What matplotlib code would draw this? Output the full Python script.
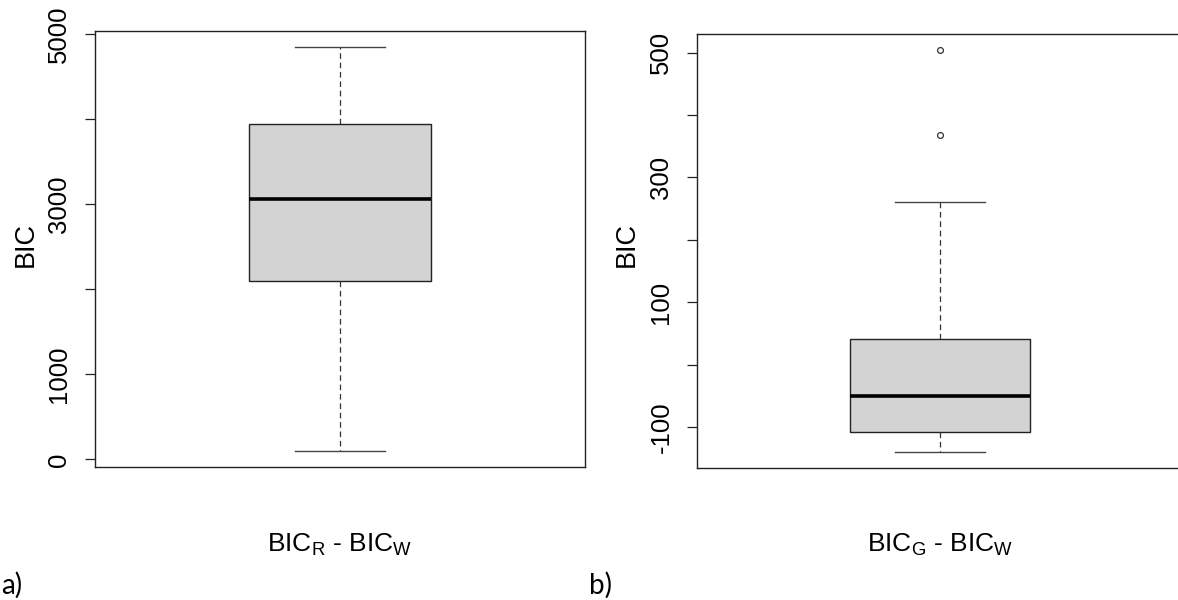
import matplotlib
matplotlib.use("Agg")
import matplotlib.pyplot as plt

# ---- data ----
panel_labels = ["a)", "b)"]
xlabels = [r"BIC$_\mathrm{R}$ - BIC$_\mathrm{W}$", r"BIC$_\mathrm{G}$ - BIC$_\mathrm{W}$"]
ylabel = "BIC"

# left panel: BIC_R - BIC_W
a_whislo, a_q1, a_med, a_q3, a_whishi = 101, 2102, 3060, 3946, 4849
a_fliers = []
a_ticks = [0, 1000, 2000, 3000, 4000, 5000]
a_ticklabels = ["0", "1000", "", "3000", "", "5000"]

# right panel: BIC_G - BIC_W
b_whislo, b_q1, b_med, b_q3, b_whishi = -139, -107, -50, 41, 260
b_fliers = [368, 504]
b_ticks = [-100, 0, 100, 200, 300, 400, 500]
b_ticklabels = ["-100", "", "100", "", "300", "", "500"]

# ---- style ----
W, H = 1178, 600
plt.rcParams["font.family"] = ["Liberation Sans", "DejaVu Sans"]
plt.rcParams["mathtext.fontset"] = "custom"
plt.rcParams["mathtext.rm"] = "Liberation Sans"
plt.rcParams["mathtext.it"] = "Liberation Sans:italic"
plt.rcParams["axes.unicode_minus"] = False

fig = plt.figure(figsize=(W / 100, H / 100), dpi=100)


def px_axes(x0, x1, ytop, ybot):
    return fig.add_axes([x0 / W, 1 - ybot / H, (x1 - x0) / W, (ybot - ytop) / H])


def draw(ax, stats_vals, fliers, ticks, ticklabels):
    lo, q1, med, q3, hi = stats_vals
    st = [dict(whislo=lo, q1=q1, med=med, q3=q3, whishi=hi, fliers=fliers)]
    ax.bxp(st, positions=[1], widths=0.4, patch_artist=True, showcaps=True,
           capwidths=0.2,
           boxprops=dict(facecolor="#d3d3d3", edgecolor="#222222", linewidth=1.0),
           medianprops=dict(color="black", linewidth=2.6, solid_capstyle="butt"),
           whiskerprops=dict(color="#333333", linewidth=0.9, linestyle=(0, (4.5, 3))),
           capprops=dict(color="#444444", linewidth=1.0),
           flierprops=dict(marker="o", markersize=4.2, markerfacecolor="white",
                           markeredgecolor="#333333", markeredgewidth=0.9))
    allv = [lo, hi] + list(fliers)
    mn, mx = min(allv), max(allv)
    r = mx - mn
    ax.set_ylim(mn - 0.04 * r, mx + 0.04 * r)
    ax.set_xlim(0.5 - 0.04, 1.5 + 0.04)
    ax.set_xticks([])
    ax.set_yticks(ticks)
    ax.set_yticklabels(ticklabels, rotation=90, va="center", fontsize=18.5)
    ax.tick_params(axis="y", length=7, width=0.9, pad=10, color="#222222")
    for s in ax.spines.values():
        s.set_linewidth(1.0)
        s.set_color("#222222")


ax1 = px_axes(95, 585, 30.5, 467)
draw(ax1, (a_whislo, a_q1, a_med, a_q3, a_whishi), a_fliers, a_ticks, a_ticklabels)
ax2 = px_axes(697, 1183, 34, 467.7)
draw(ax2, (b_whislo, b_q1, b_med, b_q3, b_whishi), b_fliers, b_ticks, b_ticklabels)


def ftext(x, y, s, **kw):
    fig.text(x / W, 1 - y / H, s, **kw)


ftext(26, 244, ylabel, rotation=90, ha="center", va="center", fontsize=19.5)
ftext(627, 244, ylabel, rotation=90, ha="center", va="center", fontsize=19.5)
ftext(340, 545, xlabels[0], ha="center", va="center", fontsize=19)
ftext(940, 545, xlabels[1], ha="center", va="center", fontsize=19)
ftext(1, 585, panel_labels[0], ha="left", va="center", fontsize=20, family=["Lato", "DejaVu Sans"])
ftext(589, 585, panel_labels[1], ha="left", va="center", fontsize=20, family=["Lato", "DejaVu Sans"])

fig.savefig("out.png", dpi=100)
